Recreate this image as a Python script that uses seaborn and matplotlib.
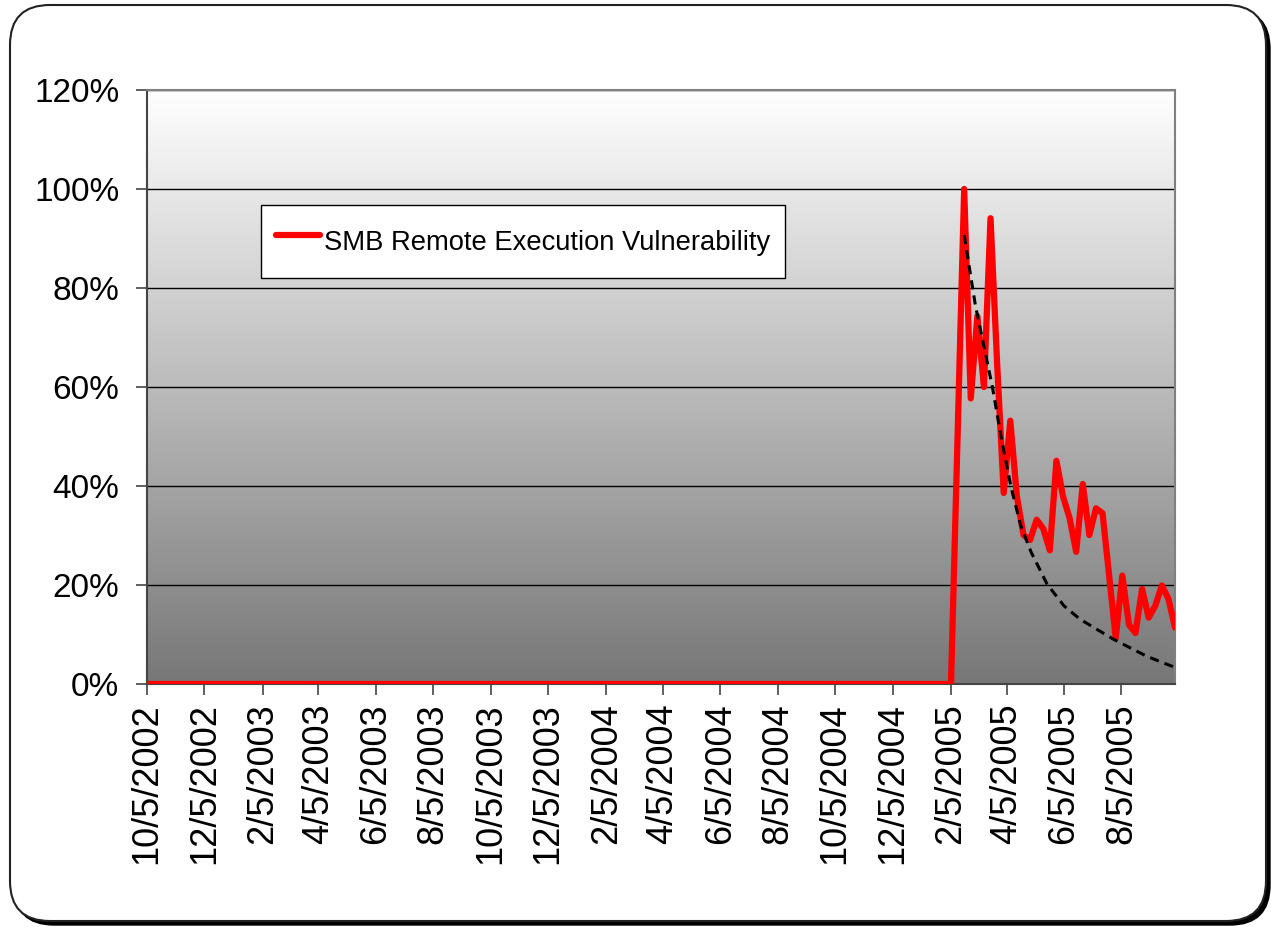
import numpy as np
import pandas as pd
import matplotlib
matplotlib.use("Agg")
import matplotlib.pyplot as plt
import seaborn as sns
from matplotlib.colors import LinearSegmentedColormap
from matplotlib.patches import FancyBboxPatch
from matplotlib.ticker import PercentFormatter
from matplotlib.transforms import IdentityTransform

# weekly series starting 10/5/2002, share of peak
start = "2002-10-05"
n_zero_weeks = 123
active_values = [50.0, 100.0, 57.7, 74.3, 60.0, 94.1, 64.8, 38.6, 53.2, 37.9,
                 30.1, 29.1, 33.2, 31.4, 27.0, 45.1, 37.9, 33.5, 26.7, 40.4,
                 30.1, 35.5, 34.5, 21.9, 9.3, 21.9, 12.0, 10.3, 19.2, 13.4,
                 15.8, 19.9, 17.2, 11.4]
values = [0.0] * n_zero_weeks + active_values

# dashed trend line
trend_dates = ["2005-02-19", "2005-03-03", "2005-03-21", "2005-03-31", "2005-04-10",
               "2005-04-20", "2005-05-01", "2005-05-18", "2005-06-05", "2005-06-22",
               "2005-07-28", "2005-09-01", "2005-09-29"]
trend_values = [90.7, 76.4, 60.0, 49.1, 39.6, 32.1, 26.7, 20.2, 15.8, 13.1, 9.0, 5.6, 3.5]

tick_labels = ["10/5/2002", "12/5/2002", "2/5/2003", "4/5/2003", "6/5/2003", "8/5/2003",
               "10/5/2003", "12/5/2003", "2/5/2004", "4/5/2004", "6/5/2004", "8/5/2004",
               "10/5/2004", "12/5/2004", "2/5/2005", "4/5/2005", "6/5/2005", "8/5/2005"]
series_name = "SMB Remote Execution Vulnerability"

df = pd.DataFrame({
    "date": pd.date_range(start, periods=len(values), freq="7D"),
    "share": np.array(values) / 100.0,
})
trend = pd.DataFrame({"date": pd.to_datetime(trend_dates),
                      "share": np.array(trend_values) / 100.0})
tick_dates = pd.to_datetime(tick_labels, format="%m/%d/%Y")

sns.set_style("white")
plt.rcParams["font.family"] = ["Liberation Sans", "DejaVu Sans"]

fig = plt.figure(figsize=(12.71, 9.27), dpi=100)

# rounded outer frame with a drop shadow
shadow = FancyBboxPatch((14, 2), 1256, 916, boxstyle="round,pad=0,rounding_size=40",
                        transform=IdentityTransform(), facecolor="black",
                        edgecolor="black", zorder=-2)
frame = FancyBboxPatch((10, 6), 1256, 916, boxstyle="round,pad=0,rounding_size=40",
                       transform=IdentityTransform(), facecolor="white",
                       edgecolor="#222222", lw=1.5, zorder=-1)
fig.patches.extend([shadow, frame])

ax = fig.add_axes([0.1157, 0.2621, 0.8088, 0.6408])
ax.set_facecolor("none")

# white (top) to gray (bottom) gradient background
grad = np.linspace(0, 1, 256).reshape(-1, 1)
cmap = LinearSegmentedColormap.from_list("bg", ["#ffffff", "#777777"])
ax.imshow(grad, cmap=cmap, extent=[0, 1, 0, 1], transform=ax.transAxes,
          aspect="auto", zorder=0, vmin=0, vmax=1)

sns.lineplot(data=df, x="date", y="share", color="#ff0000", lw=4.5,
             label=series_name, ax=ax, zorder=3)
ax.plot(trend["date"], trend["share"], color="black", lw=2.2, ls=(0, (3, 2)), zorder=4)

ax.set_xlim(pd.Timestamp("2002-10-05"), pd.Timestamp("2005-10-01"))
ax.set_ylim(0, 1.2)
ax.set_yticks(np.arange(0, 1.21, 0.2))
ax.yaxis.set_major_formatter(PercentFormatter(1.0, decimals=0))
ax.set_xticks(tick_dates)
ax.set_xticklabels(tick_labels, rotation=90)
ax.tick_params(axis="both", length=8, width=1.2, color="#444444",
               direction="out", labelcolor="black")
ax.tick_params(axis="y", left=True, labelsize=24, pad=12)
ax.tick_params(axis="x", bottom=True, labelsize=26, pad=6)
ax.set_xlabel("")
ax.set_ylabel("")

ax.grid(axis="y", color="black", lw=1)
ax.set_axisbelow(True)
for side, spine in ax.spines.items():
    spine.set_color("#808080")
    spine.set_linewidth(1.5)
ax.spines["left"].set_color("#444444")
ax.spines["bottom"].set_color("#444444")

leg = ax.legend(loc="upper left", bbox_to_anchor=(0.111, 0.806), borderaxespad=0,
                fontsize=19.7, frameon=True, fancybox=False, handlelength=1.6,
                handleheight=2.0, handletextpad=0.15, borderpad=0.55)
leg.get_frame().set_edgecolor("black")
leg.get_frame().set_linewidth(1)
leg.get_frame().set_facecolor("white")
leg.get_frame().set_alpha(1)
for t in leg.get_texts():
    t.set_color("black")

fig.savefig("out.png", dpi=100)
